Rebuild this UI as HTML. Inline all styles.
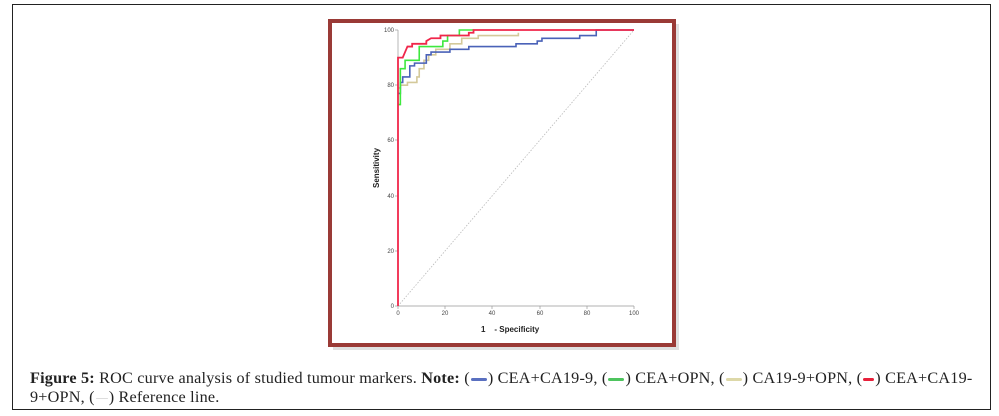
<!DOCTYPE html>
<html><head><meta charset="utf-8"><style>
body{margin:0;width:999px;height:416px;background:#fff;position:relative;overflow:hidden;font-family:"Liberation Serif",serif}
.outer{position:absolute;left:12px;top:4px;width:977px;height:404px;border:1px solid #222}
.cap{position:absolute;left:30px;top:369px;font-size:16.2px;line-height:19px;color:#222;width:950px;letter-spacing:0.2px}
.sw{display:inline-block;width:16px;height:3px;vertical-align:middle;margin:0 1px;border-radius:2px}
</style></head><body>
<div class="outer"></div>
<svg width="999" height="416" style="position:absolute;left:0;top:0">
<rect x="333" y="24" width="346" height="326" fill="#ccc" opacity="0.6"/>
<rect x="330" y="21" width="344" height="324" fill="#fff" stroke="#9a3a36" stroke-width="4"/>
<g font-family="Liberation Sans,sans-serif" font-size="6" fill="#444">
<line x1="398" y1="30" x2="398" y2="306" stroke="#999" stroke-width="0.7"/>
<line x1="398" y1="306" x2="634" y2="306" stroke="#999" stroke-width="0.7"/>
<g stroke="#999" stroke-width="0.7">
<line x1="395" y1="30" x2="398" y2="30"/><line x1="395" y1="85" x2="398" y2="85"/><line x1="395" y1="140" x2="398" y2="140"/><line x1="395" y1="196" x2="398" y2="196"/><line x1="395" y1="251" x2="398" y2="251"/><line x1="395" y1="306" x2="398" y2="306"/>
<line x1="398" y1="306" x2="398" y2="309"/><line x1="445" y1="306" x2="445" y2="309"/><line x1="492" y1="306" x2="492" y2="309"/><line x1="540" y1="306" x2="540" y2="309"/><line x1="587" y1="306" x2="587" y2="309"/><line x1="634" y1="306" x2="634" y2="309"/>
</g>
<g text-anchor="end"><text x="394" y="32">100</text><text x="394" y="87">80</text><text x="394" y="142">60</text><text x="394" y="198">40</text><text x="394" y="253">20</text><text x="394" y="308">0</text></g>
<g text-anchor="middle"><text x="398" y="315">0</text><text x="445" y="315">20</text><text x="492" y="315">40</text><text x="540" y="315">60</text><text x="587" y="315">80</text><text x="634" y="315">100</text></g>
<text x="0" y="0" font-size="8" font-weight="bold" fill="#222" text-anchor="middle" transform="translate(379,168) rotate(-90)">Sensitivity</text>
<text x="481" y="332" font-size="8" font-weight="bold" fill="#222">1&#160;&#160;&#160;&#160;- Specificity</text>
</g>
<g transform="translate(398,306) scale(2.36,-2.76)" fill="none">
<line x1="0" y1="0" x2="100" y2="100" stroke="#bbb" stroke-width="0.8" stroke-dasharray="1.5,1.5" vector-effect="non-scaling-stroke"/>
<polyline vector-effect="non-scaling-stroke" stroke="#d4c99a" stroke-width="1.6" points="0,79 1,79 1,80 4,80 4,81 8,81 8,83 9,83 9,86 11,86 11,89 13,89 13,91 16,91 16,93 22,93 22,95 27,95 27,97 34,97 34,98 51,98 51,99"/>
<polyline vector-effect="non-scaling-stroke" stroke="#4a62b8" stroke-width="1.6" points="0,77 1,77 1,81 2,81 2,83 5,83 5,87 7,87 7,88 12,88 12,91 14,91 14,92 22,92 22,93 30,93 30,94 50,94 50,95 59,95 59,96 61,96 61,97 77,97 77,98 84,98 84,100 100,100"/>
<polyline vector-effect="non-scaling-stroke" stroke="#3ee83e" stroke-width="1.6" points="0,73 1,73 1,86 3,86 3,89 9,89 9,94 19,94 19,96 21,96 21,98 26,98 26,100 32,100"/>
<polyline vector-effect="non-scaling-stroke" stroke="#f0264a" stroke-width="1.8" points="0,0 0,90 2,90 3,92 4,94 6,94 6,95 12,95 12,96 14,97 18,97 18,98 30,98 30,99 32,99 32,100 100,100"/>
</g>
</svg>
<div class="cap"><b>Figure 5:</b> ROC curve analysis of studied tumour markers. <b>Note:</b> (<span class="sw" style="background:#5a70c0"></span>) CEA+CA19-9, (<span class="sw" style="background:#4ec45e"></span>) CEA+OPN, (<span class="sw" style="background:#ddd8a8"></span>) CA19-9+OPN, (<span class="sw" style="background:#e8203a;width:11px"></span>) CEA+CA19-9+OPN, (<span class="sw" style="background:#ddd;height:1px;width:12px"></span>) Reference line.</div>
</body></html>
